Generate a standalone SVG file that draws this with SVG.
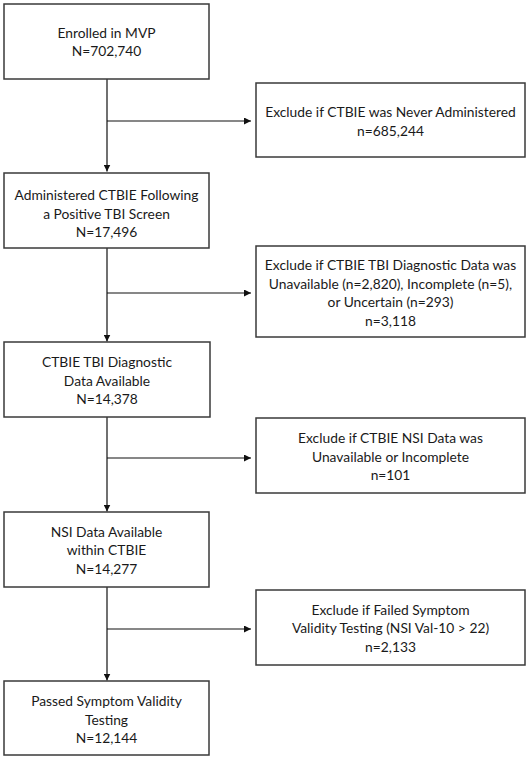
<svg xmlns="http://www.w3.org/2000/svg" width="529" height="759" viewBox="0 0 529 759">
<style>
.box{fill:#fff;stroke:#3a3a3a;stroke-width:1.5}
.t{font-family:Lato,"Open Sans",sans-serif;font-size:13.8px;fill:#1a1a1a;text-anchor:middle}
.c{stroke:#111;stroke-width:1.2;fill:none}
</style>
<defs>
<marker id="ah" viewBox="0 0 10 10" refX="10" refY="5" markerWidth="7" markerHeight="7" markerUnits="userSpaceOnUse" orient="auto">
<path d="M0,0 L10,5 L0,10 z" fill="#111"/>
</marker>
</defs>
<rect width="529" height="759" fill="#fff"/>
<g id="connectors">
<line class="c" x1="107" y1="79" x2="107" y2="171.5" marker-end="url(#ah)"/>
<line class="c" x1="107" y1="121" x2="251" y2="121" marker-end="url(#ah)"/>
<line class="c" x1="107" y1="248" x2="107" y2="341.5" marker-end="url(#ah)"/>
<line class="c" x1="107" y1="293" x2="251" y2="293" marker-end="url(#ah)"/>
<line class="c" x1="107" y1="417" x2="107" y2="511.5" marker-end="url(#ah)"/>
<line class="c" x1="107" y1="458" x2="251" y2="458" marker-end="url(#ah)"/>
<line class="c" x1="107" y1="587" x2="107" y2="680.5" marker-end="url(#ah)"/>
<line class="c" x1="107" y1="629" x2="251" y2="629" marker-end="url(#ah)"/>
</g>
<g id="enrolled">
<rect class="box" x="4" y="4" width="205" height="75"/>
<text class="t" x="106.5" y="37.5">Enrolled in MVP</text>
<text class="t" x="106.5" y="56">N=702,740</text>
</g>
<g id="administered">
<rect class="box" x="4" y="173" width="205" height="75"/>
<text class="t" x="106.5" y="200">Administered CTBIE Following</text>
<text class="t" x="106.5" y="218.5">a Positive TBI Screen</text>
<text class="t" x="106.5" y="237">N=17,496</text>
</g>
<g id="diagnostic">
<rect class="box" x="4" y="342" width="206" height="75"/>
<text class="t" x="107" y="367">CTBIE TBI Diagnostic</text>
<text class="t" x="107" y="385.5">Data Available</text>
<text class="t" x="107" y="404">N=14,378</text>
</g>
<g id="nsi">
<rect class="box" x="4" y="512" width="205" height="75"/>
<text class="t" x="106.5" y="536.5">NSI Data Available</text>
<text class="t" x="106.5" y="555">within CTBIE</text>
<text class="t" x="106.5" y="573.5">N=14,277</text>
</g>
<g id="passed">
<rect class="box" x="4" y="681" width="205" height="74"/>
<text class="t" x="106.5" y="706">Passed Symptom Validity</text>
<text class="t" x="106.5" y="724.5">Testing</text>
<text class="t" x="106.5" y="743">N=12,144</text>
</g>
<g id="excl1">
<rect class="box" x="256" y="83" width="269" height="74"/>
<text class="t" x="390.5" y="117">Exclude if CTBIE was Never Administered</text>
<text class="t" x="390.5" y="135.5">n=685,244</text>
</g>
<g id="excl2">
<rect class="box" x="256" y="246" width="269" height="91"/>
<text class="t" x="390.5" y="270">Exclude if CTBIE TBI Diagnostic Data was</text>
<text class="t" x="390.5" y="288.5">Unavailable (n=2,820), Incomplete (n=5),</text>
<text class="t" x="390.5" y="307">or Uncertain (n=293)</text>
<text class="t" x="390.5" y="325.5">n=3,118</text>
</g>
<g id="excl3">
<rect class="box" x="256" y="418" width="269" height="75"/>
<text class="t" x="390.5" y="443">Exclude if CTBIE NSI Data was</text>
<text class="t" x="390.5" y="461.5">Unavailable or Incomplete</text>
<text class="t" x="390.5" y="480">n=101</text>
</g>
<g id="excl4">
<rect class="box" x="256" y="590" width="269" height="75"/>
<text class="t" x="390.5" y="614.5">Exclude if Failed Symptom</text>
<text class="t" x="390.5" y="633">Validity Testing (NSI Val-10 &gt; 22)</text>
<text class="t" x="390.5" y="651.5">n=2,133</text>
</g>
</svg>
